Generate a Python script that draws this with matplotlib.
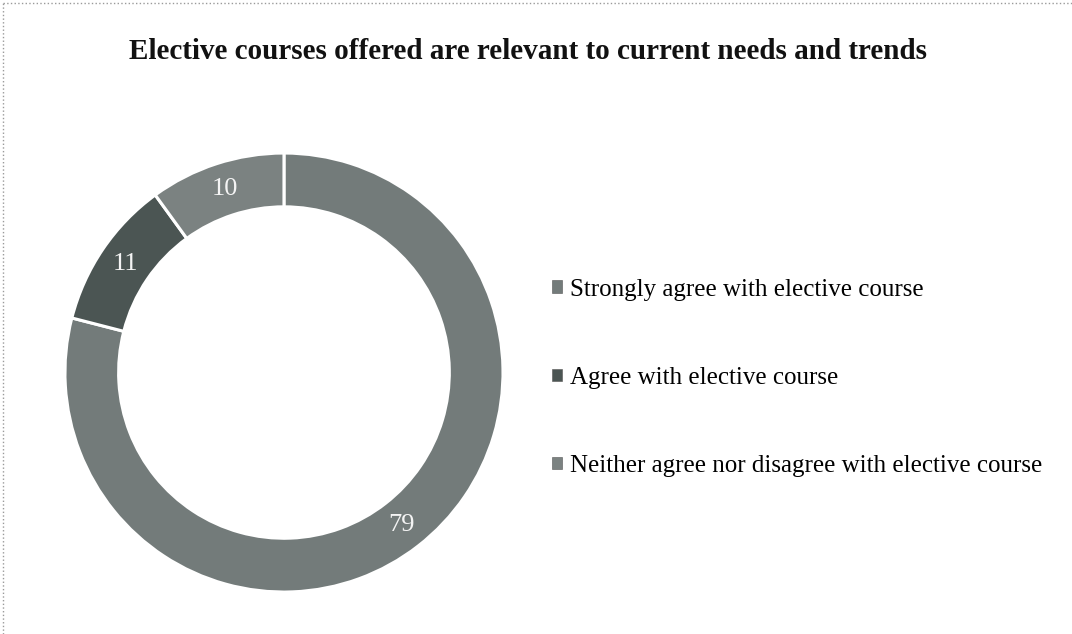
import matplotlib
matplotlib.use('Agg')
import matplotlib.pyplot as plt
from matplotlib.lines import Line2D
from matplotlib.patches import Patch
import numpy as np

# data
categories = ['Strongly agree with elective course',
              'Agree with elective course',
              'Neither agree nor disagree with elective course']
values = [79, 11, 10]
colors = ['#737b7a', '#4b5553', '#7b8281']

plt.rcParams['font.family'] = ['Liberation Serif', 'DejaVu Serif']

fig = plt.figure(figsize=(10.72, 6.34), dpi=100)
fig.patch.set_facecolor('white')

ax = fig.add_axes([0.0606, 0.0662, 0.4086, 0.6924])
wedges, _ = ax.pie(values, colors=colors, startangle=90, counterclock=False,
                   radius=1.0,
                   wedgeprops={'width': 0.245, 'edgecolor': 'white', 'linewidth': 2.2})
ax.set_aspect('auto')
ax.set_xlim(-1, 1)
ax.set_ylim(-1, 1)

for w, v in zip(wedges, values):
    mid = np.deg2rad((w.theta1 + w.theta2) / 2.0)
    r = 1.0 - 0.245 / 2.0
    ax.text(r * np.cos(mid), r * np.sin(mid), str(v), ha='center', va='center',
            color='#f4f4f4', fontsize=19)

fig.text(0.493, 0.918, 'Elective courses offered are relevant to current needs and trends',
         ha='center', va='center', fontsize=21, fontweight='bold', color='#111111')

handles = [Patch(facecolor=c, edgecolor='#555555', linewidth=0.4) for c in colors]
fig.legend(handles, categories, loc='center left', bbox_to_anchor=(0.494, 0.404),
           frameon=False, fontsize=18, handlelength=0.4, handleheight=0.4,
           handletextpad=0.3, labelspacing=2.65)

# dotted frame around the chart area
fig.add_artist(Line2D([0.003, 1.0], [0.995, 0.995], transform=fig.transFigure,
                      color='#9a9a9a', linestyle=':', linewidth=1.0))
fig.add_artist(Line2D([0.003, 0.003], [0.0, 0.995], transform=fig.transFigure,
                      color='#9a9a9a', linestyle=':', linewidth=1.0))

fig.savefig('out.png', dpi=100)
